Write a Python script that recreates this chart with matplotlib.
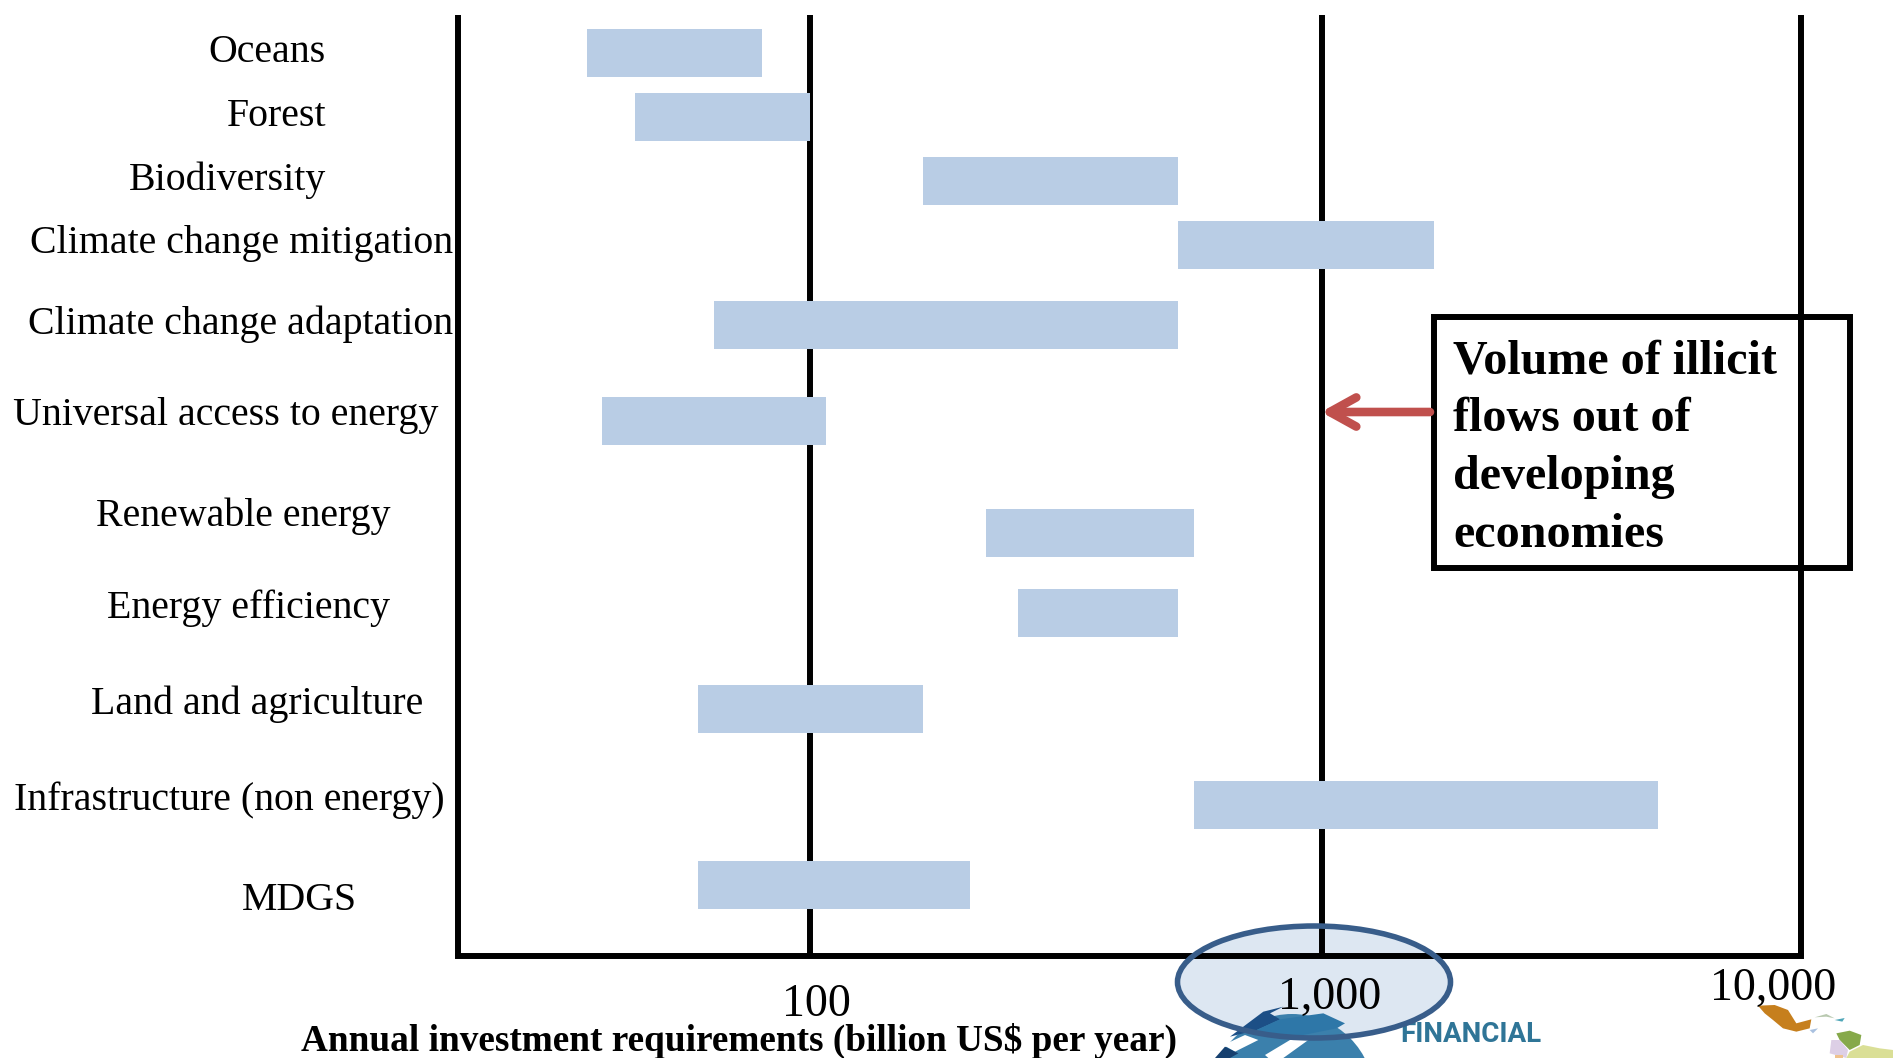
import numpy as np
import matplotlib
matplotlib.use("Agg")
import matplotlib.pyplot as plt
from matplotlib.patches import Ellipse, Rectangle, Polygon, Circle
from matplotlib.ticker import FixedLocator, NullFormatter, NullLocator

# Investment ranges, billion US$ per year
categories = ["Oceans", "Forest", "Biodiversity", "Climate change mitigation",
              "Climate change adaptation", "Universal access to energy",
              "Renewable energy", "Energy efficiency", "Land and agriculture",
              "Infrastructure (non energy)", "MDGS"]
low_values = [36.6, 45.5, 166, 524, 65, 39.2, 221, 255, 60.5, 562, 60.5]
high_values = [80.5, 100, 524, 1710, 524, 107.5, 562, 524, 166, 5020, 205]
tick_values = [100, 1000, 10000]
tick_labels = ["100", "1,000", "10,000"]

W, H = 1893, 1058
plt.rcParams["font.family"] = ["Liberation Serif", "DejaVu Serif"]
fig = plt.figure(figsize=(W / 100, H / 100), dpi=100, facecolor="white")


def page_axes(zorder):
    """Full-figure axes in pixel units."""
    a = fig.add_axes([0, 0, 1, 1], zorder=zorder)
    a.set_xlim(0, W)
    a.set_ylim(H, 0)
    a.axis("off")
    a.patch.set_alpha(0)
    return a


# Logo and highlight fill lie beneath the chart lines; text and outlines lie above
under = page_axes(1)
page = page_axes(3)

# Plot area
L, R, T, B = 458, 1801, 15, 956
ax = fig.add_axes([L / W, 1 - B / H, (R - L) / W, (B - T) / H], zorder=2)
ax.patch.set_alpha(0)


# Log scale whose upper decade is slightly narrower than the lower ones
def forward(v):
    d = np.log10(np.clip(v, 1e-6, None))
    return np.where(d <= 3, d * 512.0, 3 * 512.0 + (d - 3) * 479.0)


def inverse(u):
    u = np.asarray(u, dtype=float)
    return np.where(u <= 1536.0, 10 ** (u / 512.0), 10 ** (3 + (u - 1536.0) / 479.0))


ax.set_xscale("function", functions=(forward, inverse))
ax.set_xlim(float(inverse(2 * 512.0 - (810 - L))), 10000)
ax.set_ylim(B, T)
ax.set_axisbelow(True)

# Row centres and label positions on the page
row_y = [53, 117, 181, 245, 325, 421, 533, 613, 709, 805, 885]
label_y = [52, 116, 180, 244, 324, 416, 516, 608, 704, 800, 900]
label_right = [326, 326, 326, 453, 453, 438, 390, 390, 423, 445, 357]

for y, lo, hi in zip(row_y, low_values, high_values):
    ax.barh(y, hi - lo, left=lo, height=48, color="#b9cde5", linewidth=0)

ax.xaxis.set_major_locator(FixedLocator(tick_values))
ax.xaxis.set_minor_locator(NullLocator())
ax.xaxis.set_major_formatter(NullFormatter())
ax.yaxis.set_major_locator(NullLocator())
ax.grid(True, axis="x", color="black", linewidth=4.3)
ax.tick_params(axis="x", length=0)
ax.spines["top"].set_visible(False)
for side in ("left", "right", "bottom"):
    ax.spines[side].set_linewidth(4.3)
    ax.spines[side].set_capstyle("butt")
ax.spines["bottom"].set_capstyle("projecting")

for name, y, xr in zip(categories, label_y, label_right):
    page.text(xr, y, name, ha="right", va="center", fontsize=28.7, color="black")

# Tick labels sit by hand below the axis
for label, x, y in zip(tick_labels, [816, 1330, 1773], [1005, 998, 989]):
    page.text(x, y, label, ha="center", va="center", fontsize=33, color="black")

page.text(739, 1041, "Annual investment requirements (billion US$ per year)",
          ha="center", va="center", fontsize=26.8, fontweight="bold")

# Callout box and arrow
page.annotate("", xy=(1321, 412), xytext=(1430, 412),
              arrowprops=dict(arrowstyle="->,head_length=1.9,head_width=1.05",
                              color="#c0504d", lw=6.2, shrinkA=0, shrinkB=0))
page.add_patch(Rectangle((1434, 317), 416, 251, fill=False, ec="black", lw=4.3))
for i, line in enumerate(["Volume of illicit", "flows out of", "developing", "economies"]):
    page.text(1453, 361 + 58 * i, line, ha="left", va="center", fontsize=34.6,
              fontweight="bold")


def logo_poly(points, color, z=1.2):
    """Polygon given relative to the logo's corner at (1180, 980), at 3x scale."""
    xy = [(1180 + px / 3, 980 + py / 3) for px, py in points]
    under.add_patch(Polygon(xy, fc=color, ec="none", zorder=z))


def map_poly(points, color):
    """Polygon given relative to the map's corner at (1733, 990), at 3x scale."""
    xy = [(1733 + px / 3, 990 + py / 3) for px, py in points]
    under.add_patch(Polygon(xy, fc=color, ec="none", zorder=1))


# Highlight fill around the 1,000 tick, under the logo
under.add_patch(Ellipse((1314, 982), 273, 112, fc="#b9cde5", alpha=0.48, ec="none", zorder=0.5))

# Logo fragment: a striped globe, its top cut away by the white gap
under.add_patch(Circle((1292, 1096), 82, fc="#3b80ac", ec="none", zorder=1))
logo_poly([(130, 195), (195, 165), (235, 180), (165, 215)], "white")
logo_poly([(255, 225), (330, 180), (385, 180), (310, 234), (265, 234)], "white")
logo_poly([(105, 234), (135, 200), (175, 220), (150, 234)], "#16406f")
logo_poly([(150, 170), (250, 95), (310, 80), (270, 100), (300, 118), (230, 150)], "#1c4f86")
logo_poly([(230, 150), (300, 118), (430, 100), (495, 130), (470, 145), (370, 165), (270, 170)], "#2e77a8")
under.text(1471, 1034, "FINANCIAL", ha="center", va="center", color="#2f7597", fontsize=20,
           fontweight="bold", family=["Liberation Sans Narrow", "Roboto"], zorder=1)

# Map fragment in the corner
map_poly([(75, 47), (125, 45), (165, 60), (190, 100), (235, 88), (230, 115), (190, 125),
          (150, 115), (120, 90), (95, 70)], "#c67f1d")
map_poly([(230, 120), (255, 115), (240, 130)], "#a9c1e0")
map_poly([(245, 82), (280, 72), (305, 85), (280, 80)], "#b9c9b0")
map_poly([(305, 90), (335, 84), (328, 95)], "#4fa6b8")
map_poly([(310, 130), (350, 122), (385, 135), (380, 165), (350, 180), (320, 150)], "#86a94a")
map_poly([(295, 150), (320, 150), (345, 180), (340, 204), (290, 190)], "#ddcfe6")
map_poly([(350, 185), (390, 165), (440, 175), (480, 180), (480, 204), (340, 204)], "#dadf96")
map_poly([(305, 195), (330, 195), (330, 204), (305, 204)], "#efc28e")

# Highlight outline
page.add_patch(Ellipse((1314, 982), 273, 112, fill=False, ec="#385d8a", lw=4))

fig.savefig("out.png", dpi=100, facecolor="white")
